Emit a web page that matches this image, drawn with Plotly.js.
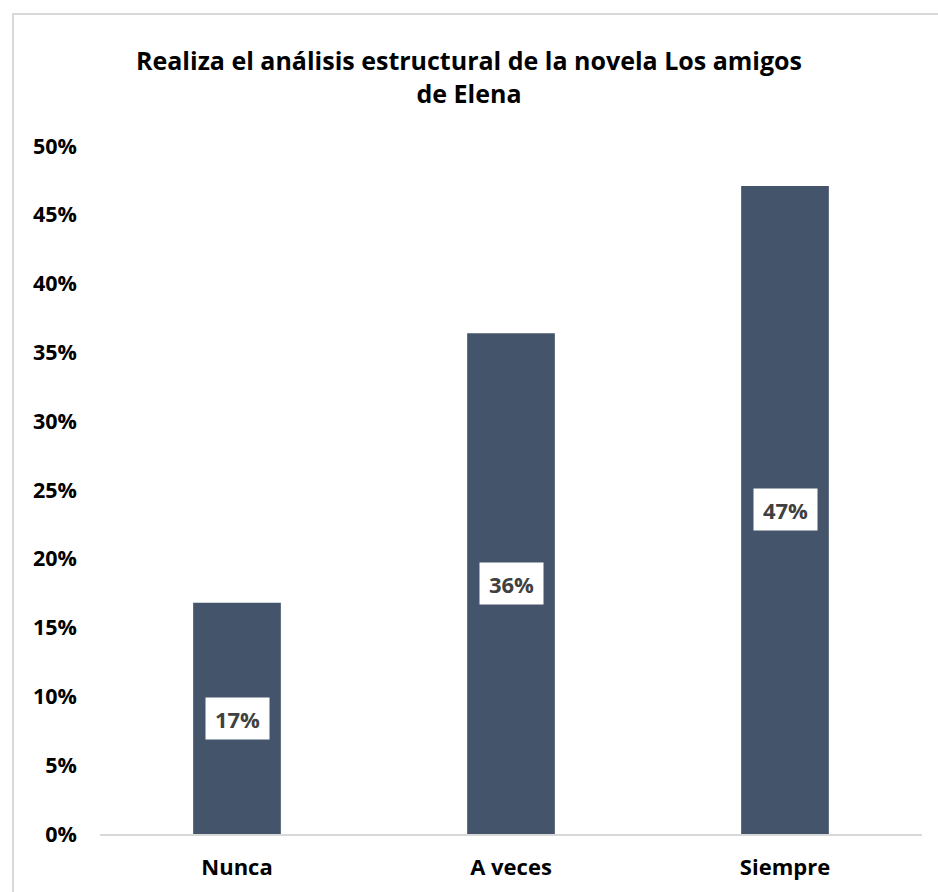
<!DOCTYPE html>
<html>
<head>
<meta charset="utf-8">
<script src="https://cdn.plot.ly/plotly-3.0.1.min.js"></script>
<style>
  body { margin: 0; background: #fff; overflow: hidden; }
  #frame { position: absolute; left: 12px; top: 13px; width: 1000px; height: 1000px;
           border-left: 2px solid #d9d9d9; border-top: 2px solid #d9d9d9; }
  #chart { position: absolute; left: 0; top: 0; width: 938px; height: 892px; }
</style>
</head>
<body>
<div id="frame"></div>
<div id="chart"></div>
<script>
// Categories and shares
const categories = ["Nunca", "A veces", "Siempre"];
const shares = [0.168, 0.364, 0.471];

const FONT = "'Open Sans', 'DejaVu Sans', sans-serif";
const BAR = "#44546A";

const trace = {
  type: "bar",
  x: categories,
  y: shares,
  marker: { color: BAR, line: { width: 0 } },
  hoverinfo: "skip"
};

// value boxes in the middle of each bar
const labels = categories.map((c, i) => ({
  x: c,
  y: shares[i] / 2,
  xref: "x",
  yref: "y",
  text: Math.round(shares[i] * 100) + "%",
  showarrow: false,
  bgcolor: "#ffffff",
  width: 63,
  height: 41,
  borderpad: 0,
  font: { family: FONT, size: 22, color: "#404040", weight: 700 }
}));

const layout = {
  width: 938,
  height: 892,
  paper_bgcolor: "rgba(0,0,0,0)",
  plot_bgcolor: "rgba(0,0,0,0)",
  margin: { l: 100, r: 16, t: 146, b: 58 },
  bargap: 0.68,
  showlegend: false,
  title: {
    text: "Realiza el análisis estructural de la novela Los amigos<br>de Elena",
    font: { family: FONT, size: 25, color: "#000", weight: 700 },
    x: 0.5,
    xanchor: "center",
    xref: "container",
    y: 1 - 70 / 892,
    yanchor: "middle",
    yref: "container"
  },
  xaxis: {
    type: "category",
    showgrid: false,
    zeroline: false,
    showline: true,
    linecolor: "#d9d9d9",
    linewidth: 2,
    ticks: "",
    ticklabelstandoff: 13,
    tickfont: { family: FONT, size: 22, color: "#000", weight: 700 }
  },
  yaxis: {
    range: [0, 0.5],
    dtick: 0.05,
    tickformat: ".0%",
    showgrid: false,
    zeroline: false,
    showline: false,
    ticks: "",
    ticklabelstandoff: 22,
    tickfont: { family: FONT, size: 21.5, color: "#000", weight: 700 }
  },
  annotations: labels
};

Plotly.newPlot("chart", [trace], layout, { displayModeBar: false, staticPlot: true });
</script>
</body>
</html>
